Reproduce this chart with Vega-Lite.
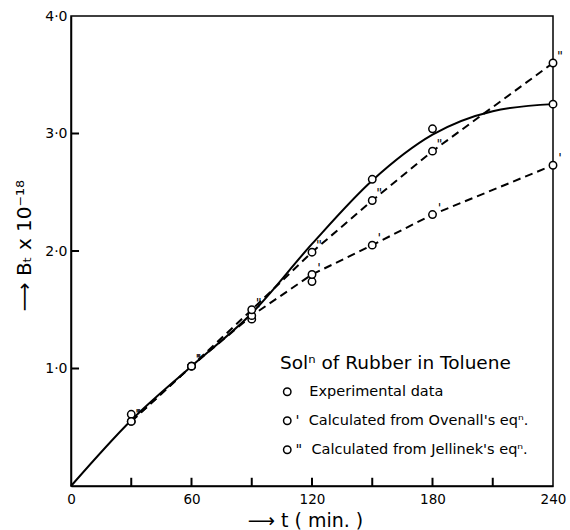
{
  "$schema": "https://vega.github.io/schema/vega-lite/v6.json",
  "width": 482,
  "height": 470,
  "autosize": "none",
  "padding": {"left": 71, "top": 16, "right": 17, "bottom": 44},
  "background": "white",
  "config": {
    "font": "DejaVu Sans",
    "view": {"stroke": "black", "strokeWidth": 1.5},
    "axis": {"domainColor": "black", "domainWidth": 1.5, "labelColor": "black", "titleColor": "black", "grid": false}
  },
  "datasets": {
    "pts": [
      {"t": 30, "B": 0.61, "series": "Experimental data", "prime": ""},
      {"t": 60, "B": 1.02, "series": "Experimental data", "prime": ""},
      {"t": 90, "B": 1.42, "series": "Experimental data", "prime": ""},
      {"t": 120, "B": 1.74, "series": "Experimental data", "prime": ""},
      {"t": 150, "B": 2.61, "series": "Experimental data", "prime": ""},
      {"t": 180, "B": 3.04, "series": "Experimental data", "prime": ""},
      {"t": 240, "B": 3.25, "series": "Experimental data", "prime": ""},
      {"t": 30, "B": 0.55, "series": "Calculated from Ovenall's eqⁿ.", "prime": "'"},
      {"t": 60, "B": 1.02, "series": "Calculated from Ovenall's eqⁿ.", "prime": "'"},
      {"t": 90, "B": 1.45, "series": "Calculated from Ovenall's eqⁿ.", "prime": "'"},
      {"t": 120, "B": 1.80, "series": "Calculated from Ovenall's eqⁿ.", "prime": "'"},
      {"t": 150, "B": 2.05, "series": "Calculated from Ovenall's eqⁿ.", "prime": "'"},
      {"t": 180, "B": 2.31, "series": "Calculated from Ovenall's eqⁿ.", "prime": "'"},
      {"t": 240, "B": 2.73, "series": "Calculated from Ovenall's eqⁿ.", "prime": "'"},
      {"t": 30, "B": 0.55, "series": "Calculated from Jellinek's eqⁿ.", "prime": "\""},
      {"t": 60, "B": 1.02, "series": "Calculated from Jellinek's eqⁿ.", "prime": "\""},
      {"t": 90, "B": 1.50, "series": "Calculated from Jellinek's eqⁿ.", "prime": "\""},
      {"t": 120, "B": 1.99, "series": "Calculated from Jellinek's eqⁿ.", "prime": "\""},
      {"t": 150, "B": 2.43, "series": "Calculated from Jellinek's eqⁿ.", "prime": "\""},
      {"t": 180, "B": 2.85, "series": "Calculated from Jellinek's eqⁿ.", "prime": "\""},
      {"t": 240, "B": 3.60, "series": "Calculated from Jellinek's eqⁿ.", "prime": "\""}
    ],
    "curve": [
      {"t": 0, "B": 0},
      {"t": 30, "B": 0.56},
      {"t": 60, "B": 1.02},
      {"t": 90, "B": 1.47},
      {"t": 120, "B": 2.06},
      {"t": 150, "B": 2.60},
      {"t": 180, "B": 2.99},
      {"t": 210, "B": 3.19},
      {"t": 240, "B": 3.25}
    ],
    "xticks": [{"t": 30}, {"t": 60}, {"t": 90}, {"t": 120}, {"t": 150}, {"t": 180}, {"t": 210}],
    "yticks": [{"B": 1}, {"B": 2}, {"B": 3}]
  },
  "resolve": {"axis": {"x": "independent", "y": "independent"}},
  "layer": [
    {
      "data": {"name": "curve"},
      "mark": {"type": "line", "interpolate": "monotone", "color": "black", "strokeWidth": 2},
      "encoding": {
        "x": {
          "field": "t", "type": "quantitative",
          "scale": {"domain": [0, 240], "nice": false, "zero": false},
          "axis": {
            "orient": "bottom",
            "values": [0, 60, 120, 180, 240],
            "ticks": false, "labelPadding": 6, "labelFontSize": 13.5, "labelFlush": false,
            "title": "⟶  t  ( min. )", "titleFontSize": 19, "titleFontWeight": "normal", "titlePadding": 6, "titleX": 234
          }
        },
        "y": {
          "field": "B", "type": "quantitative",
          "scale": {"domain": [0, 4], "nice": false},
          "axis": {
            "orient": "left",
            "values": [1, 2, 3, 4],
            "labelExpr": "replace(format(datum.value, '.1f'), '.', '·')",
            "ticks": false, "labelPadding": 4, "labelFontSize": 14, "labelFlush": false,
            "title": "⟶  Bₜ x 10⁻¹⁸", "titleFontSize": 20, "titleFontWeight": "normal", "titlePadding": 10, "titleY": 229
          }
        }
      }
    },
    {
      "data": {"name": "xticks"},
      "mark": {"type": "rule", "color": "black", "strokeWidth": 2},
      "encoding": {
        "x": {"field": "t", "type": "quantitative", "axis": null},
        "y": {"datum": 0, "type": "quantitative", "axis": null},
        "y2": {"datum": 0.07}
      }
    },
    {
      "data": {"name": "yticks"},
      "mark": {"type": "rule", "color": "black", "strokeWidth": 2},
      "encoding": {
        "y": {"field": "B", "type": "quantitative", "axis": null},
        "x": {"datum": 0, "type": "quantitative", "axis": null},
        "x2": {"datum": 4}
      }
    },
    {
      "data": {"name": "pts"},
      "transform": [{"filter": "datum.prime != ''"}],
      "mark": {"type": "line", "color": "black", "strokeWidth": 2, "strokeDash": [8, 5]},
      "encoding": {
        "x": {"field": "t", "type": "quantitative", "axis": null},
        "y": {"field": "B", "type": "quantitative", "axis": null},
        "detail": {"field": "series"}
      }
    },
    {
      "data": {"name": "pts"},
      "mark": {"type": "point", "shape": "circle", "size": 55, "fill": "white", "fillOpacity": 1, "strokeWidth": 1.5},
      "encoding": {
        "x": {"field": "t", "type": "quantitative", "axis": null},
        "y": {"field": "B", "type": "quantitative", "axis": null},
        "stroke": {
          "field": "series", "type": "nominal",
          "scale": {"domain": ["Experimental data", "Calculated from Ovenall's eqⁿ.", "Calculated from Jellinek's eqⁿ."], "range": ["black", "black", "black"]},
          "legend": {
            "title": "Solⁿ of Rubber in Toluene",
            "orient": "none", "legendX": 209, "legendY": 338,
            "titleFontSize": 18.5, "titleFontWeight": "normal", "titleColor": "black", "titlePadding": 12, "titleLimit": 400,
            "labelFontSize": 14.5, "labelColor": "black", "labelOffset": 1, "rowPadding": 14,
            "symbolType": "circle", "symbolSize": 55, "symbolStrokeWidth": 1.5, "symbolFillColor": "white",
            "labelExpr": "indexof(datum.label, 'Ovenall') >= 0 ? \"'\u00a0\u00a0\" + datum.label : indexof(datum.label, 'Jellinek') >= 0 ? \"\\\"\u00a0\u00a0\" + datum.label : \"\u200b\u00a0\u00a0\u00a0\" + datum.label",
            "labelLimit": 400
          }
        }
      }
    },
    {
      "data": {"name": "pts"},
      "transform": [{"filter": "datum.prime != ''"}],
      "mark": {"type": "text", "dx": 7, "dy": -7, "fontSize": 13, "color": "black"},
      "encoding": {
        "x": {"field": "t", "type": "quantitative", "axis": null},
        "y": {"field": "B", "type": "quantitative", "axis": null},
        "text": {"field": "prime"}
      }
    }
  ]
}
